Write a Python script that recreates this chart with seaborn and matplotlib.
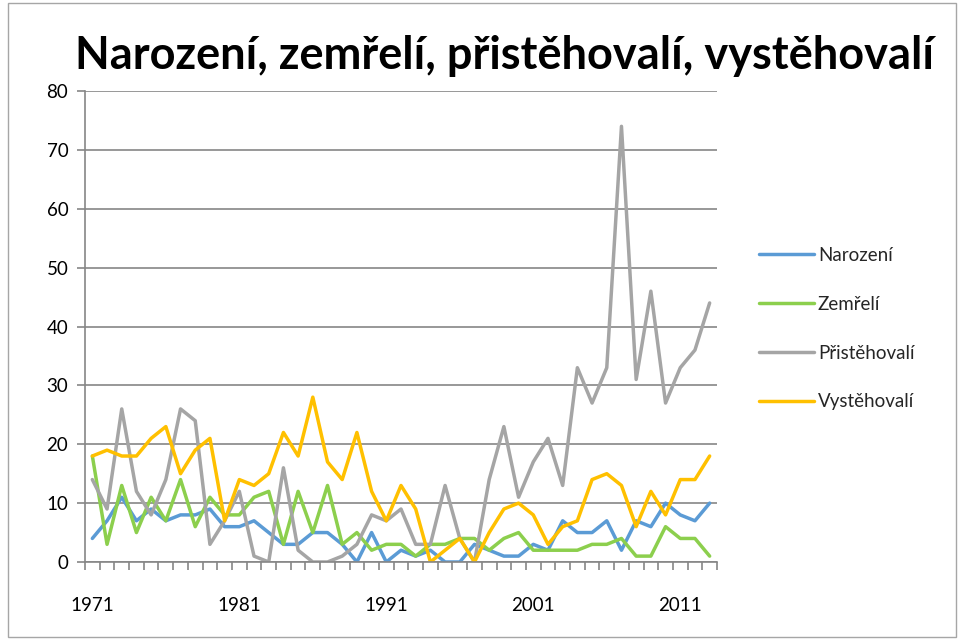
import numpy as np
import pandas as pd
import matplotlib
matplotlib.use("Agg")
import matplotlib.pyplot as plt
from matplotlib.patches import Rectangle
from matplotlib.ticker import FixedLocator
import seaborn as sns

years = list(range(1971, 2014))
narozeni = [4, 7, 11, 7, 9, 7, 8, 8, 9, 6, 6, 7, 5, 3, 3, 5, 5, 3, 0, 5,
            0, 2, 1, 2, 0, 0, 3, 2, 1, 1, 3, 2, 7, 5, 5, 7, 2, 7, 6, 10,
            8, 7, 10]
zemreli = [18, 3, 13, 5, 11, 7, 14, 6, 11, 8, 8, 11, 12, 3, 12, 5, 13, 3, 5, 2,
           3, 3, 1, 3, 3, 4, 4, 2, 4, 5, 2, 2, 2, 2, 3, 3, 4, 1, 1, 6,
           4, 4, 1]
pristehovali = [14, 9, 26, 12, 8, 14, 26, 24, 3, 7, 12, 1, 0, 16, 2, 0, 0, 1, 3, 8,
                7, 9, 3, 3, 13, 4, 0, 14, 23, 11, 17, 21, 13, 33, 27, 33, 74, 31, 46, 27,
                33, 36, 44]
vystehovali = [18, 19, 18, 18, 21, 23, 15, 19, 21, 7, 14, 13, 15, 22, 18, 28, 17, 14, 22, 12,
               7, 13, 9, 0, 2, 4, 0, 5, 9, 10, 8, 3, 6, 7, 14, 15, 13, 6, 12, 8,
               14, 14, 18]
series_names = ["Narození", "Zemřelí", "Přistěhovalí", "Vystěhovalí"]
colors = ["#5B9BD5", "#8CCF4D", "#A5A5A5", "#FFC000"]
xtick_labels = ["1971", "1981", "1991", "2001", "2011"]
yticks = [0, 10, 20, 30, 40, 50, 60, 70, 80]

df = pd.DataFrame({
    "rok": years * 4,
    "hodnota": narozeni + zemreli + pristehovali + vystehovali,
    "řada": sum([[n] * len(years) for n in series_names], []),
})

sns.set_theme(style="white")
plt.rcParams["font.family"] = ["Lato", "DejaVu Sans"]

fig = plt.figure(figsize=(9.6, 6.39), dpi=100)
ax = fig.add_axes([85 / 960, 1 - 562 / 639, (717 - 85) / 960, (562 - 91) / 639])

sns.lineplot(data=df, x="rok", y="hodnota", hue="řada", hue_order=series_names,
             palette=colors, linewidth=2.5, ax=ax, legend=True)

ax.set_xlim(years[0] - 0.5, years[-1] + 0.5)
ax.set_ylim(0, 80)
ax.set_yticks(yticks)
ax.set_yticklabels([str(v) for v in yticks])
ax.set_xticks([int(t) for t in xtick_labels])
ax.set_xticklabels(xtick_labels)
ax.xaxis.set_minor_locator(FixedLocator([y - 0.5 for y in years] + [years[-1] + 0.5]))
ax.tick_params(axis="x", which="major", length=0, pad=25, labelsize=13.5, labelcolor="#000000")
ax.tick_params(axis="x", which="minor", length=6, width=1.2, color="#868686", direction="out", bottom=True)
ax.tick_params(axis="y", which="major", length=6, width=1.2, color="#868686", direction="out",
               left=True, pad=6, labelsize=13.5, labelcolor="#000000")
ax.set_xlabel("")
ax.set_ylabel("")
ax.grid(axis="y", color="#868686", linewidth=1.2)
ax.grid(axis="x", visible=False)
ax.set_axisbelow(True)
for s in ["top", "right"]:
    ax.spines[s].set_visible(False)
for s in ["left", "bottom"]:
    ax.spines[s].set_color("#868686")
    ax.spines[s].set_linewidth(1.2)

handles, labels = ax.get_legend_handles_labels()
ax.legend(handles, labels, loc="upper left", bbox_to_anchor=(742 / 960, 1 - 230 / 639),
          bbox_transform=fig.transFigure, frameon=False, fontsize=13.5,
          handlelength=2.95, handletextpad=0.2, labelspacing=1.7)

fig.text(505 / 960, 1 - 56 / 639, "Narození, zemřelí, přistěhovalí, vystěhovalí",
         ha="center", va="center", fontsize=32.5, fontweight="bold", color="#000000")

fig.patches.append(Rectangle((8 / 960, 2 / 639), 948 / 960, 634 / 639, transform=fig.transFigure,
                             fill=False, edgecolor="#A6A6A6", linewidth=1.0))

fig.savefig("out.png", dpi=100)
